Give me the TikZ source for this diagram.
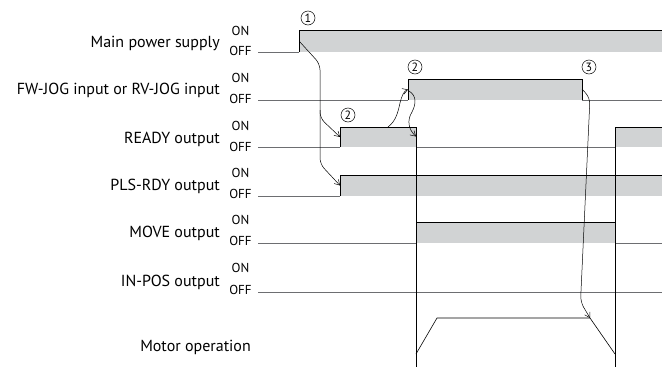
\documentclass[tikz,border=0pt]{standalone}
\usepackage{fontspec}
\setmainfont{PT Sans}
\usetikzlibrary{arrows.meta}
\definecolor{sigfill}{HTML}{D1D3D4}
\definecolor{offgray}{HTML}{6D6E71}
\begin{document}
\begin{tikzpicture}[x=1pt,y=-1pt,
  offl/.style={draw=offgray, line width=0.9pt},
  onl/.style={draw=black, line width=0.6pt},
  sig/.style={fill=sigfill},
  cue/.style={draw=black, line width=0.5pt, -{Straight Barb[length=5pt,width=6pt]}},
  lbl/.style={anchor=base east, inner sep=0pt, font=\fontsize{16}{18}\selectfont},
  onoff/.style={anchor=base, inner sep=0pt, font=\fontsize{13}{15}\selectfont},
  num/.style={circle, draw, line width=0.5pt, inner sep=0pt, minimum size=14pt, font=\fontsize{12}{14}\selectfont}]
\useasboundingbox (0,0) rectangle (662,367);

% labels
\node[lbl] (l1) at (220,47) {Main power supply};
\node[lbl] (l2) at (220,94.5) {FW-JOG input or RV-JOG input};
\node[lbl] (l3) at (220,143) {READY output};
\node[lbl] (l4) at (220,190.5) {PLS-RDY output};
\node[lbl] (l5) at (220,237.5) {MOVE output};
\node[lbl] (l6) at (220,286.5) {IN-POS output};
\node[lbl] (l7) at (251,351.5) {Motor operation};

\node[onoff] (on1) at (240.5,35) {ON};    \node[onoff] (off1) at (240.5,55.5) {OFF};
\node[onoff] (on2) at (240.5,82) {ON};    \node[onoff] (off2) at (240.5,103.5) {OFF};
\node[onoff] (on3) at (240.5,130) {ON};   \node[onoff] (off3) at (240.5,151) {OFF};
\node[onoff] (on4) at (240.5,177) {ON};   \node[onoff] (off4) at (240.5,198.5) {OFF};
\node[onoff] (on5) at (240.5,224) {ON};   \node[onoff] (off5) at (240.5,245.5) {OFF};
\node[onoff] (on6) at (240.5,272) {ON};   \node[onoff] (off6) at (240.5,294) {OFF};

% Main power supply
\fill[sig] (299,30) rectangle (662,52);
\draw[offl] (258,52) -- (299,52);
\draw[onl] (299,52) -- (299,30) -- (662,30);

% FW-JOG
\fill[sig] (408,79) rectangle (582,100);
\draw[offl] (258,100) -- (408,100);
\draw[offl] (582,100) -- (662,100);
\draw[onl] (408,100) -- (408,79) -- (582,79) -- (582,100);

% READY
\fill[sig] (340,127) rectangle (416,147);
\fill[sig] (615,127) rectangle (662,147);
\draw[offl] (258,147) -- (340,147);
\draw[offl] (416,147) -- (615,147);
\draw[onl] (340,147) -- (340,127) -- (416,127);
\draw[onl] (615,127) -- (662,127);

% PLS-RDY
\fill[sig] (340,175) rectangle (662,196);
\draw[offl] (258,196) -- (340,196);
\draw[onl] (340,196) -- (340,175) -- (662,175);

% MOVE
\fill[sig] (416,222) rectangle (615,243);
\draw[offl] (258,243) -- (416,243);
\draw[offl] (615,243) -- (662,243);
\draw[onl] (416,222) -- (615,222);

% IN-POS
\draw[offl] (258,292) -- (662,292);

% long verticals
\draw[onl] (416,127) -- (416,367);
\draw[onl] (615,127) -- (615,367);

% Motor operation
\coordinate (m1) at (416,354);
\coordinate (m2) at (437,318);
\coordinate (m3) at (590,318);
\coordinate (m4) at (615,354);
\draw[onl] (m1) -- (m2) -- (m3) -- (m4);

% event coordinates
\coordinate (mpon) at (299.5,41.5);
\coordinate (rdyon) at (340,137);
\coordinate (plson) at (340,185.5);
\coordinate (rdytop) at (388,127);
\coordinate (jogon) at (408,89.5);
\coordinate (jogon2) at (409,91);
\coordinate (rdyoff) at (416,136.5);
\coordinate (jogoff) at (582,89);

% arrows
\draw[cue, rounded corners=6pt] (mpon) -- (320,64) -- (320,118) -- (rdyon);
\draw[cue, rounded corners=6pt] (320,110) -- (320,164) -- (plson);
\draw[cue] (rdytop) .. controls (396,121) and (398,112) .. (400,103) .. controls (402,95) and (404,91) .. (jogon);
\draw[cue] (jogon2) .. controls (417,96) and (416,104) .. (412,112) .. controls (407,120) and (408,129) .. (rdyoff);
\draw[cue, rounded corners=6pt] (jogoff) -- (590,98) -- (580.5,302) -- (m3);

% event numbers
\node[num] (n1) at (308,18) {1};
\node[num] (n2a) at (415,67) {2};
\node[num] (n3) at (589,67) {3};
\node[num] (n2b) at (348,115) {2};
\end{tikzpicture}
\end{document}
